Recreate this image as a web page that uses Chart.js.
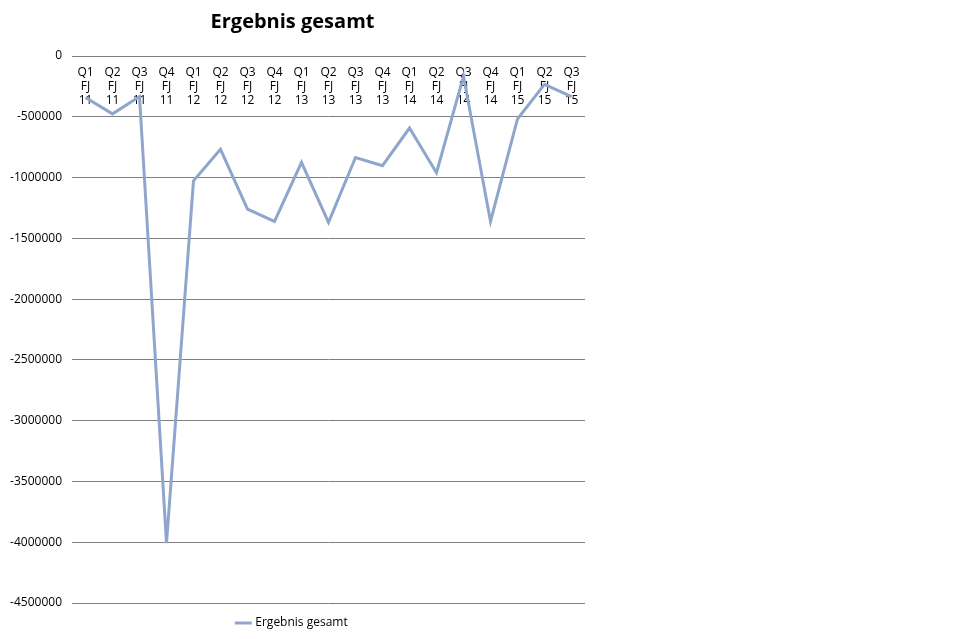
<!DOCTYPE html>
<html>
<head>
<meta charset="utf-8">
<script src="https://cdn.jsdelivr.net/npm/chart.js@4/dist/chart.umd.min.js"></script>
<style>
  body { margin: 0; background: #fff; }
  #wrap { position: absolute; left: 0; top: 0; width: 600px; height: 639px; }
</style>
</head>
<body>
<div id="wrap"><canvas id="c" width="600" height="639"></canvas></div>
<script>
const quarters = ['Q1','Q2','Q3','Q4','Q1','Q2','Q3','Q4','Q1','Q2','Q3','Q4','Q1','Q2','Q3','Q4','Q1','Q2','Q3'];
const years = ['11','11','11','11','12','12','12','12','13','13','13','13','14','14','14','14','15','15','15'];
const values = [-342000, -476000, -334000, -4007000, -1027000, -768000, -1260000, -1361000,
  -876000, -1369000, -835000, -902000, -593000, -960000, -167000, -1361000, -518000, -234000, -334000];

const labels = quarters.map((q, i) => [q, 'FJ', years[i]]);
const font = { family: 'Open Sans', size: 12, lineHeight: 1.15 };

new Chart(document.getElementById('c'), {
  type: 'line',
  data: {
    labels: labels,
    datasets: [{
      label: 'Ergebnis gesamt',
      data: values,
      borderColor: '#8fa6cc',
      backgroundColor: '#8fa6cc',
      borderWidth: 3,
      pointRadius: 0,
      tension: 0
    }]
  },
  options: {
    responsive: false,
    animation: false,
    layout: { padding: { left: 0, right: 15, top: 0, bottom: 0 } },
    plugins: {
      title: {
        display: true, text: 'Ergebnis gesamt', color: '#000',
        font: { family: 'Open Sans', size: 20, weight: 'bold' },
        padding: { top: 10, bottom: 22 }
      },
      legend: {
        position: 'bottom',
        labels: { usePointStyle: true, pointStyle: 'line', boxWidth: 30, color: '#000', font: font, padding: 14 }
      }
    },
    scales: {
      x: {
        position: { y: 0 },
        offset: true,
        grid: { display: false },
        border: { color: '#808080' },
        ticks: { color: '#000', font: font, maxRotation: 0, autoSkip: false, padding: 2 }
      },
      y: {
        min: -4500000, max: 0,
        afterFit: s => { s.width = 72; },
        grid: { color: '#808080', drawTicks: false },
        border: { display: false },
        ticks: { stepSize: 500000, color: '#000', font: font, padding: 10, callback: v => String(v) }
      }
    }
  }
});
</script>
</body>
</html>
